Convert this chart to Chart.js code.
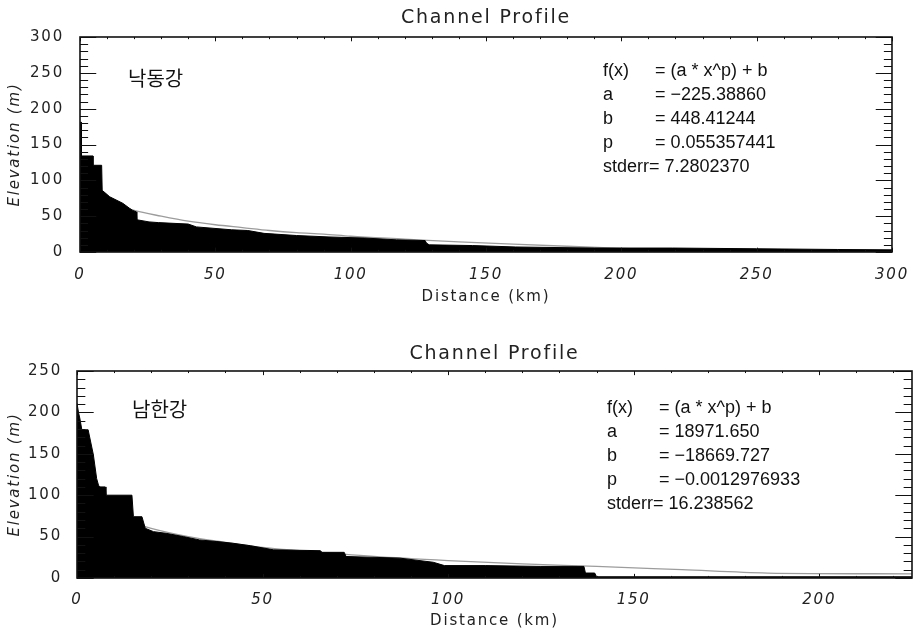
<!DOCTYPE html>
<html>
<head>
<meta charset="utf-8">
<script src="https://cdn.jsdelivr.net/npm/chart.js@4.4.0/dist/chart.umd.min.js"></script>
<style>
html, body { margin: 0; padding: 0; background: #fff; }
.box { position: absolute; left: 0; width: 915px; }
#box1 { top: 0; height: 320px; }
#box2 { top: 320px; height: 313px; }
</style>
</head>
<body>
<div class="box" id="box1"><canvas id="c1"></canvas></div>
<div class="box" id="box2"><canvas id="c2"></canvas></div>
<script>
// 낙동강 channel profile (distance km, elevation m)
const nakdongDist = [0, 0.5, 0.5, 4.8, 4.8, 8, 8.2, 11, 15.8, 18.3, 19.5, 20.8, 21, 25.5, 29, 40, 43, 56, 62, 68, 80, 92, 105, 117, 127.5, 128, 129, 145, 161, 190, 219, 250, 280, 300];
const nakdongElev = [181, 181, 134, 134, 121, 121, 86, 77, 68, 61, 58, 56, 45, 42, 41, 39, 35, 31, 30, 26, 23, 21, 19.5, 17, 16, 12.5, 10, 9, 7, 5.5, 5.5, 4.5, 3.5, 3];
// fitted curve
const nakdongFitDist = [1, 2, 5, 10, 15, 20, 30, 40, 50, 60, 70, 80, 90, 100, 120, 140, 160, 180, 200, 230, 260, 300];
const nakdongFitElev = [118, 105, 87, 73, 64, 58, 50, 43, 38, 34, 30, 27, 25, 22, 18, 14, 11, 8, 5, 2, -1, -5];
const nakdongFit = [['f(x)', '= (a * x^p) + b'], ['a', '= −225.38860'], ['b', '= 448.41244'], ['p', '= 0.055357441'], ['stderr= 7.2802370', '']];

// 남한강 channel profile
const namhanDist = [0, 0.4, 0.8, 1.3, 3, 4.4, 5.3, 5.8, 6.2, 7.6, 7.8, 14.8, 15.2, 17.5, 18.4, 20.6, 24, 28.7, 33, 37.7, 42, 46.7, 53, 65.6, 66, 72, 72.5, 87, 96, 99, 110, 125, 136.6, 137, 139.5, 140, 160, 190, 225];
const namhanElev = [211, 200, 192, 179, 179, 149, 120, 112, 110, 110, 100, 100, 74, 74, 60, 56, 54, 50, 46, 44, 42, 39, 34, 33, 31, 31, 26, 24, 19, 15, 15, 14, 14, 6, 6, 1.5, 1.5, 1.5, 1.5];
const namhanFitDist = [1, 2, 5, 10, 15, 20, 30, 40, 50, 60, 80, 100, 120, 140, 163, 186, 225];
const namhanFitElev = [133, 116, 93, 77, 67, 60, 50, 43, 37, 33, 26, 21, 17, 14, 10, 6, 5];
const namhanFit = [['f(x)', '= (a * x^p) + b'], ['a', '= 18971.650'], ['b', '= −18669.727'], ['p', '= −0.0012976933'], ['stderr= 16.238562', '']];

const toPoints = (xs, ys) => xs.map((x, i) => ({ x: x, y: ys[i] }));

// IDL style lettering is wide, so space the letters a bit
const spacing = {
    id: 'spacing',
    beforeLayout(chart) { chart.ctx.letterSpacing = '1.8px'; },
    beforeDraw(chart) { chart.ctx.letterSpacing = '1.8px'; }
};

// frame plus inward major/minor ticks on all four sides
const frameTicks = {
    id: 'frameTicks',
    afterDatasetsDraw(chart, args, opts) {
        const { ctx, chartArea: a, scales: { x, y } } = chart;
        const xLen = a.height * 0.02, yLen = a.width * 0.02;
        ctx.save();
        ctx.strokeStyle = '#111';
        ctx.lineWidth = 1;
        ctx.beginPath();
        for (let v = 0; v <= x.max; v += 10) {
            const px = Math.round(x.getPixelForValue(v)) + 0.5;
            const len = v % 50 === 0 ? xLen : xLen / 2;
            ctx.moveTo(px, a.top); ctx.lineTo(px, a.top + len);
            ctx.moveTo(px, a.bottom); ctx.lineTo(px, a.bottom - len);
        }
        for (let v = 0; v <= y.max; v += 10) {
            const py = Math.round(y.getPixelForValue(v)) + 0.5;
            const len = v % 50 === 0 ? yLen : yLen / 2;
            ctx.moveTo(a.left, py); ctx.lineTo(a.left + len, py);
            ctx.moveTo(a.right, py); ctx.lineTo(a.right - len, py);
        }
        ctx.stroke();
        ctx.lineWidth = 1.6;
        ctx.strokeRect(a.left, a.top, a.right - a.left, a.bottom - a.top);
        ctx.restore();
    }
};

// river name and fit parameters
const fitText = {
    id: 'fitText',
    afterDraw(chart, args, opts) {
        const ctx = chart.ctx;
        ctx.save();
        ctx.letterSpacing = '0px';
        ctx.fillStyle = '#111';
        ctx.textBaseline = 'middle';
        ctx.font = '20px "Noto Sans CJK KR"';
        ctx.fillText(opts.river, opts.riverX, opts.riverY);
        ctx.font = '18px "Liberation Sans", Arial, sans-serif';
        opts.rows.forEach((row, i) => {
            const y = opts.top + i * 24;
            ctx.fillText(row[0], opts.left, y);
            ctx.fillText(row[1], opts.left + 52, y);
        });
        ctx.restore();
    }
};

function makeChart(id, s) {
    return new Chart(document.getElementById(id), {
        type: 'line',
        data: {
            datasets: [
                {
                    label: 'profile',
                    data: toPoints(s.dist, s.elev),
                    borderColor: '#000',
                    backgroundColor: '#000',
                    borderWidth: 1,
                    pointRadius: 0,
                    fill: 'origin',
                    order: 0
                },
                {
                    label: 'fit',
                    data: toPoints(s.fitDist, s.fitElev),
                    borderColor: '#9c9c9c',
                    borderWidth: 1.3,
                    pointRadius: 0,
                    fill: false,
                    cubicInterpolationMode: 'monotone',
                    order: 1
                }
            ]
        },
        options: {
            responsive: true,
            maintainAspectRatio: false,
            animation: false,
            devicePixelRatio: 1,
            layout: { padding: { left: 0, right: s.padRight, top: 0, bottom: 0 } },
            plugins: {
                legend: { display: false },
                tooltip: { enabled: false },
                title: {
                    display: true,
                    text: 'Channel Profile',
                    fullSize: false,
                    color: '#222',
                    font: { family: '"DejaVu Sans"', size: 19, weight: 'normal', lineHeight: 1.2 },
                    padding: s.titlePad
                },
                fitText: s.text
            },
            scales: {
                x: {
                    type: 'linear',
                    min: 0,
                    max: s.xMax,
                    grid: { display: false },
                    border: { display: false },
                    afterFit: sc => { sc.height = s.xHeight; },
                    ticks: {
                        stepSize: 50,
                        includeBounds: false,
                        maxRotation: 0,
                        padding: s.xTickPad,
                        color: '#222',
                        font: { family: '"DejaVu Sans"', size: 15, style: 'italic' }
                    },
                    title: {
                        display: true,
                        text: 'Distance (km)',
                        color: '#222',
                        font: { family: '"DejaVu Sans"', size: 15, lineHeight: 1.2 },
                        padding: { top: 0, bottom: s.xTitlePad }
                    }
                },
                y: {
                    min: 0,
                    max: s.yMax,
                    grid: { display: false },
                    border: { display: false },
                    afterFit: sc => { sc.width = s.yWidth; },
                    ticks: {
                        stepSize: 50,
                        padding: s.yTickPad,
                        color: '#222',
                        font: { family: '"DejaVu Sans"', size: 15 }
                    },
                    title: {
                        display: true,
                        text: 'Elevation (m)',
                        color: '#222',
                        font: { family: '"DejaVu Sans"', size: 15, style: 'italic', lineHeight: 1.2 },
                        padding: { top: 6, bottom: 0 }
                    }
                }
            }
        },
        plugins: [spacing, frameTicks, fitText]
    });
}

makeChart('c1', {
    dist: nakdongDist, elev: nakdongElev,
    fitDist: nakdongFitDist, fitElev: nakdongFitElev,
    xMax: 300, yMax: 300,
    padRight: 12, yWidth: 80, xHeight: 68,
    titlePad: { top: 6.5, bottom: 7.7 },
    xTickPad: 6, xTitlePad: 14, yTickPad: 8,
    text: { river: '낙동강', riverX: 128, riverY: 78, rows: nakdongFit, left: 603, top: 71 }
});

makeChart('c2', {
    dist: namhanDist, elev: namhanElev,
    fitDist: namhanFitDist, fitElev: namhanFitElev,
    xMax: 225, yMax: 250,
    padRight: 3, yWidth: 77, xHeight: 55,
    titlePad: { top: 22.6, bottom: 5.6 },
    xTickPad: 5.5, xTitlePad: 3, yTickPad: 7,
    text: { river: '남한강', riverX: 132, riverY: 89, rows: namhanFit, left: 607, top: 88 }
});
</script>
</body>
</html>
